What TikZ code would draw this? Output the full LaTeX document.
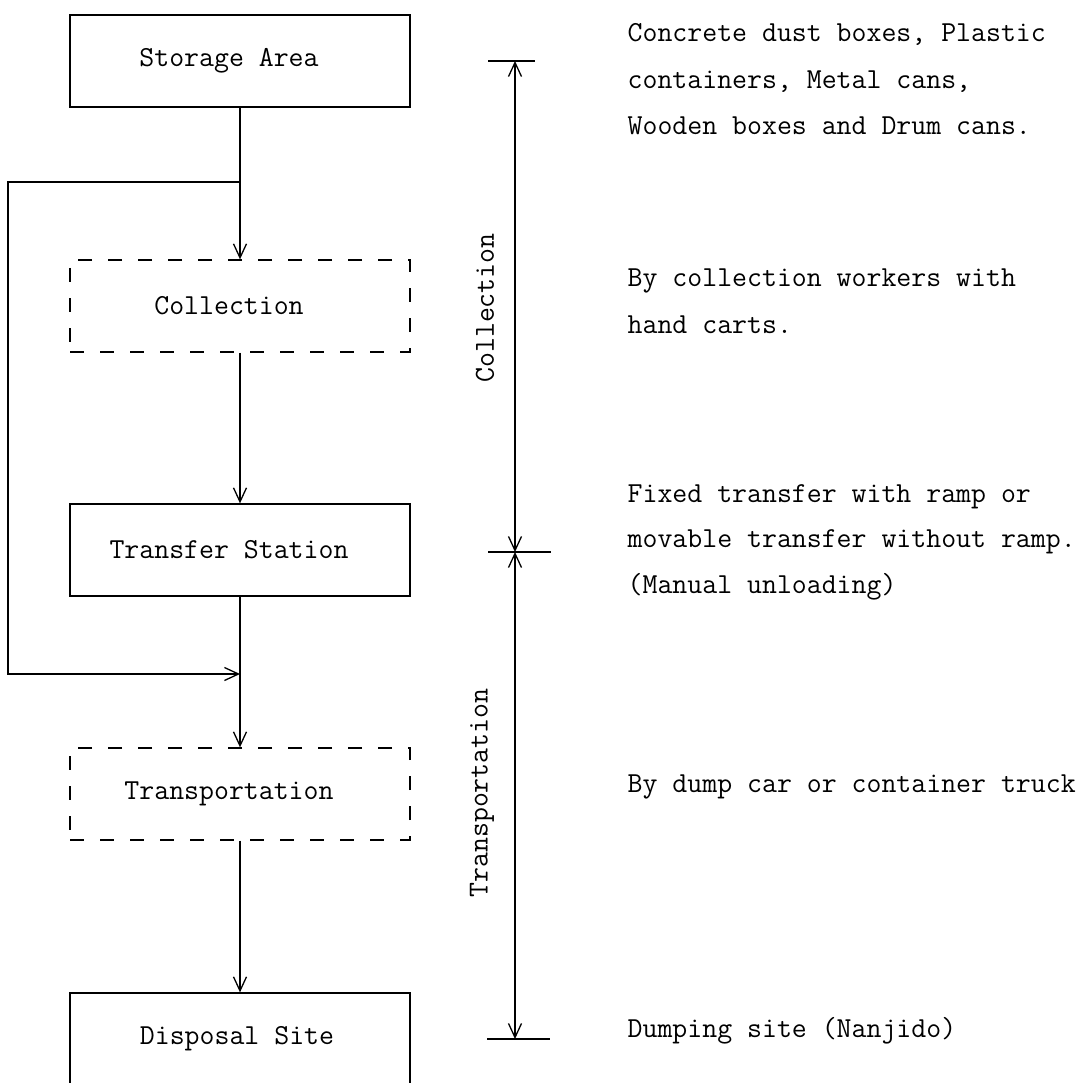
\documentclass[tikz,border=0pt]{standalone}
\usepackage{fontspec}
\usetikzlibrary{arrows.meta}
\begin{document}
\begin{tikzpicture}[x=1pt,y=-1pt,
  line width=1.3pt,
  every node/.style={font=\ttfamily\fontsize{29}{34}\selectfont, inner sep=0pt},
  box/.style={draw, minimum width=340pt, minimum height=92pt},
  dbox/.style={box, dash pattern=on 14pt off 16pt},
  tip/.tip={Straight Barb[length=14pt,width=13pt,line width=1.3pt]},
  flow/.style={-tip},
  dim/.style={tip-tip},
  note/.style={anchor=base west},
  side/.style={rotate=90}
]
\useasboundingbox (0,0) rectangle (1092,1083);

% process chain
\node[box]  (storage)   at (240,61)   {Storage Area\hspace*{22pt}};
\node[dbox] (collect)   at (240,306)  {Collection\hspace*{22pt}};
\node[box]  (transfer)  at (240,550)  {Transfer Station\hspace*{22pt}};
\node[dbox] (transport) at (240,794)  {Transportation\hspace*{22pt}};
\node[box]  (disposal)  at (240,1039) {Disposal Site\hspace*{6pt}};

\draw[flow] (storage.south) -- (collect.north);
\draw[flow] (collect.south) -- (transfer.north);
\draw[flow] (transfer.south) -- (transport.north);
\draw[flow] (transport.south) -- (disposal.north);

% bypass from storage directly to transportation
\coordinate (split) at (240,182);
\coordinate (join)  at (240,674);
\coordinate (bt) at (8,182);
\coordinate (bb) at (8,674);
\draw[flow] (split) -- (bt) -- (bb) -- (join);

% dimension line
\coordinate (d1) at (515,61);
\coordinate (d2) at (515,552);
\coordinate (d3) at (515,1039);
\draw ([xshift=-27pt]d1) -- ([xshift=20pt]d1);
\draw ([xshift=-27pt]d2) -- ([xshift=36pt]d2);
\draw ([xshift=-28pt]d3) -- ([xshift=35pt]d3);
\draw[dim] (d1) -- (d2);
\draw[dim] (d2) -- (d3);
\node[side] (lcol) at (485,308) {Collection};
\node[side] (ltra) at (482,793) {Transportation};

% descriptions
\node[note] (n1a) at (627,42)  {Concrete dust boxes, Plastic};
\node[note] (n1b) at (627,89)  {containers, Metal cans,};
\node[note] (n1c) at (627,135) {Wooden boxes and Drum cans.};
\node[note] (n2a) at (627,287) {By collection workers with};
\node[note] (n2b) at (627,333) {hand carts.};
\node[note] (n3a) at (627,502) {Fixed transfer with ramp or};
\node[note] (n3b) at (627,547) {movable transfer without ramp.};
\node[note] (n3c) at (627,593) {(Manual unloading)};
\node[note] (n4a) at (627,792) {By dump car or container truck};
\node[note] (n5a) at (627,1037) {Dumping site (Nanjido)};
\end{tikzpicture}
\end{document}
